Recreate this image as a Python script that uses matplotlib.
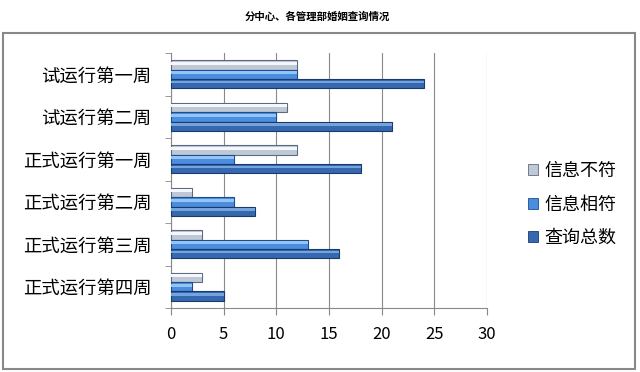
import numpy as np
import matplotlib.pyplot as plt
from matplotlib.patches import Patch, Rectangle

plt.rcParams['font.family'] = ['Noto Sans CJK SC', 'DejaVu Sans']

weeks = ["试运行第一周", "试运行第二周", "正式运行第一周",
         "正式运行第二周", "正式运行第三周", "正式运行第四周"]
mismatch = [12, 11, 12, 2, 3, 3]     # 信息不符
match = [12, 10, 6, 6, 13, 2]        # 信息相符
total = [24, 21, 18, 8, 16, 5]       # 查询总数

series = [("信息不符", mismatch, "#bfc9d6", "#f4f7fb", "#5d6b80"),
          ("信息相符", match, "#4b8ddf", "#92c4f6", "#1f4c8a"),
          ("查询总数", total, "#3668b0", "#75a3db", "#1b3a6c")]

fig = plt.figure(figsize=(6.4, 3.72), dpi=100)
ax = fig.add_axes([0.267, 0.172, 0.494, 0.685])

y = np.arange(len(weeks))
h = 0.22
for k, (name, vals, base, light, dark) in enumerate(series):
    pos = y + (k - 1) * h
    ax.barh(pos, vals, height=h, color=base, edgecolor=dark, linewidth=0.8, zorder=3)
    # highlight stripe to imitate the bevelled look
    ax.barh(pos - h * 0.18, vals, height=h * 0.3, color=light, linewidth=0, zorder=4)

ax.set_xlim(0, 30)
ax.set_ylim(len(weeks) - 0.5, -0.5)
ax.set_xticks(range(0, 31, 5))
ax.set_yticks(y)
ax.set_yticklabels(weeks, fontsize=13.2)
ax.set_yticks(np.arange(-0.5, len(weeks), 1), minor=True)
ax.tick_params(axis='y', which='major', length=0, pad=14)
ax.tick_params(axis='y', which='minor', length=4, color='#888888', direction='out')
ax.tick_params(axis='x', length=5, color='#888888', labelsize=12, pad=8)
ax.grid(axis='x', color='#8a8a8a', linewidth=0.8, zorder=0)
for s in ['top', 'right']:
    ax.spines[s].set_visible(False)
for s in ['left', 'bottom']:
    ax.spines[s].set_color('#8a8a8a')

handles = [Patch(facecolor=c[2], edgecolor=c[4], linewidth=0.6) for c in series]
fig.legend(handles, [c[0] for c in series], loc='center left',
           bbox_to_anchor=(0.80, 0.45), frameon=False, fontsize=13,
           handlelength=0.55, handleheight=0.55, handletextpad=0.35,
           labelspacing=0.85)

fig.text(0.496, 0.954, "分中心、各管理部婚姻查询情况", ha='center', va='center',
         fontsize=7.5, fontweight='bold')

fig.patches.append(Rectangle((3 / 640, 3 / 372), 632 / 640, 336 / 372,
                             transform=fig.transFigure, fill=False,
                             edgecolor='#888888', linewidth=1.5))

fig.savefig("out.png", dpi=100)
